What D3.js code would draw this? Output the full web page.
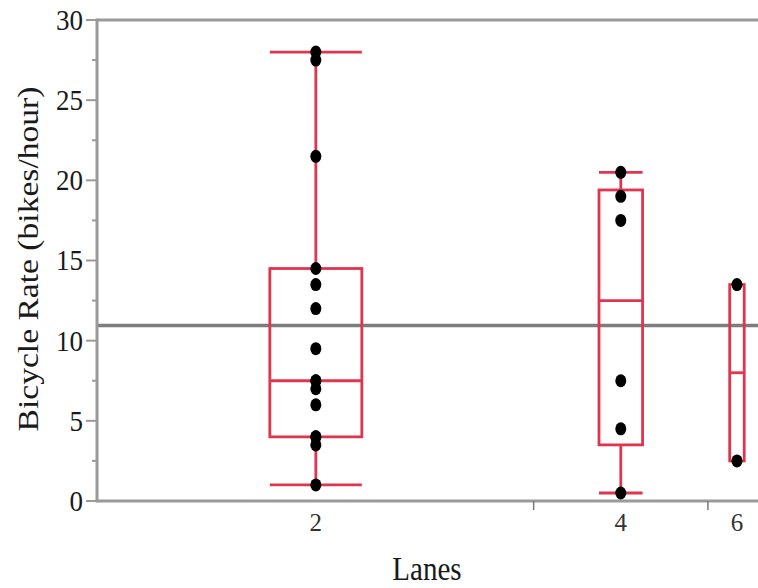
<!DOCTYPE html>
<html>
<head>
<meta charset="utf-8">
<script src="https://cdn.jsdelivr.net/npm/d3@7"></script>
<style>
  html, body { margin: 0; padding: 0; background: #fff; }
  svg { display: block; }
  text { font-family: "Liberation Serif", "DejaVu Serif", serif; fill: #1a1a1a; }
</style>
</head>
<body>
<svg id="chart" width="758" height="588"></svg>
<script>
// ---- data ----
const lanes = ["2", "4", "6"];
const points2 = [28, 27.5, 21.5, 14.5, 13.5, 12, 9.5, 7.5, 7.5, 7, 6, 4, 4, 3.5, 1];
const points4 = [20.5, 19, 17.5, 7.5, 4.5, 0.5];
const points6 = [13.5, 2.5];
const q1Values = [4, 3.5, 2.5];
const medianValues = [7.5, 12.5, 8];
const q3Values = [14.5, 19.4, 13.5];
const whiskerLow = [1, 0.5, 2.5];
const whiskerHigh = [28, 20.5, 13.5];
const grandMean = 10.95;
const yTickValues = [0, 5, 10, 15, 20, 25, 30];
const yMinorTicks = [2.5, 7.5, 12.5, 17.5, 22.5, 27.5];

const pointSets = [points2, points4, points6];

// ---- layout ----
const svg = d3.select("#chart");
const plotLeft = 97, plotRight = 766, plotTop = 20, plotBottom = 501;
const axisColor = "#9a9a9a";
const red = "#e1354f";

const y = d3.scaleLinear().domain([0, 30]).range([plotBottom, plotTop]);

// category widths proportional to counts
const counts = pointSets.map(p => p.length);
const cum = [0];
counts.forEach(c => cum.push(cum[cum.length - 1] + c));
const xc = d3.scaleLinear().domain([0, cum[cum.length - 1]]).range([plotLeft + 1, plotRight]);
const bands = lanes.map((l, i) => ({
  lane: l,
  x0: xc(cum[i]),
  x1: xc(cum[i + 1]),
  cx: (xc(cum[i]) + xc(cum[i + 1])) / 2,
  w: xc(cum[i + 1]) - xc(cum[i])
}));

// top frame line
svg.append("line")
  .attr("x1", plotLeft).attr("x2", 758).attr("y1", plotTop).attr("y2", plotTop)
  .attr("stroke", axisColor).attr("stroke-width", 3);

// grand mean reference line
svg.append("line")
  .attr("x1", plotLeft).attr("x2", 758)
  .attr("y1", y(grandMean)).attr("y2", y(grandMean))
  .attr("stroke", "#7d7d7d").attr("stroke-width", 3.5);

// y axis
const yAxisG = svg.append("g").attr("transform", `translate(${plotLeft},0)`);
yAxisG.selectAll(".major").data(yTickValues).join("line")
  .attr("class", "major")
  .attr("x1", -11).attr("x2", 0)
  .attr("y1", d => y(d)).attr("y2", d => y(d))
  .attr("stroke", axisColor).attr("stroke-width", 2);
yAxisG.selectAll(".minor").data(yMinorTicks).join("line")
  .attr("class", "minor")
  .attr("x1", -5).attr("x2", 0)
  .attr("y1", d => y(d)).attr("y2", d => y(d))
  .attr("stroke", axisColor).attr("stroke-width", 2);
yAxisG.selectAll("text").data(yTickValues).join("text")
  .attr("transform", d => `translate(-14,${y(d)}) scale(1,1.08)`)
  .attr("dy", "0.34em")
  .attr("text-anchor", "end")
  .attr("font-size", 27)
  .text(d => d);
yAxisG.append("line")
  .attr("x1", 0).attr("x2", 0).attr("y1", plotTop - 1.5).attr("y2", plotBottom + 1.5)
  .attr("stroke", axisColor).attr("stroke-width", 3);

// x axis
svg.append("line")
  .attr("x1", plotLeft).attr("x2", 758).attr("y1", plotBottom).attr("y2", plotBottom)
  .attr("stroke", axisColor).attr("stroke-width", 3);
svg.selectAll(".xsep").data(bands.slice(1)).join("line")
  .attr("class", "xsep")
  .attr("x1", d => d.x0).attr("x2", d => d.x0)
  .attr("y1", plotBottom).attr("y2", plotBottom + 9)
  .attr("stroke", "#777").attr("stroke-width", 1.5);
svg.selectAll(".xlab").data(bands).join("text")
  .attr("class", "xlab")
  .attr("x", d => d.cx).attr("y", 531)
  .attr("text-anchor", "middle")
  .attr("font-size", 25)
  .style("fill", "#333")
  .text(d => d.lane);

// axis titles
svg.append("text")
  .attr("x", 427).attr("y", 580)
  .attr("text-anchor", "middle")
  .attr("font-size", 29)
  .attr("transform", "translate(427,580) scale(1,1.13) translate(-427,-580)")
  .text("Lanes");
svg.append("text")
  .attr("transform", "translate(38,259) rotate(-90)")
  .attr("text-anchor", "middle")
  .attr("font-size", 29)
  .attr("textLength", 345)
  .attr("lengthAdjust", "spacingAndGlyphs")
  .text("Bicycle Rate (bikes/hour)");

// boxes
const boxes = bands.map((b, i) => ({
  cx: b.cx,
  bw: Math.min(92, 0.25 * b.w),
  q1: q1Values[i], med: medianValues[i], q3: q3Values[i],
  lo: whiskerLow[i], hi: whiskerHigh[i]
}));
const bg = svg.append("g").attr("stroke", red).attr("stroke-width", 2.8).attr("fill", "none");
boxes.forEach(b => {
  if (b.hi > b.q3) {
    bg.append("line").attr("x1", b.cx).attr("x2", b.cx).attr("y1", y(b.q3)).attr("y2", y(b.hi));
    bg.append("line").attr("x1", b.cx - b.bw / 2).attr("x2", b.cx + b.bw / 2).attr("y1", y(b.hi)).attr("y2", y(b.hi));
  }
  if (b.lo < b.q1) {
    bg.append("line").attr("x1", b.cx).attr("x2", b.cx).attr("y1", y(b.q1)).attr("y2", y(b.lo));
    bg.append("line").attr("x1", b.cx - b.bw / 2).attr("x2", b.cx + b.bw / 2).attr("y1", y(b.lo)).attr("y2", y(b.lo));
  }
  bg.append("rect")
    .attr("x", b.cx - b.bw / 2).attr("width", b.bw)
    .attr("y", y(b.q3)).attr("height", y(b.q1) - y(b.q3));
  bg.append("line").attr("x1", b.cx - b.bw / 2).attr("x2", b.cx + b.bw / 2)
    .attr("y1", y(b.med)).attr("y2", y(b.med));
});

// points
const pts = [];
pointSets.forEach((arr, i) => arr.forEach(v => pts.push({ cx: bands[i].cx, v })));
svg.append("g").selectAll("ellipse").data(pts).join("ellipse")
  .attr("cx", d => d.cx).attr("cy", d => y(d.v))
  .attr("rx", 5.5).attr("ry", 6.5)
  .attr("fill", "#000");
</script>
</body>
</html>
